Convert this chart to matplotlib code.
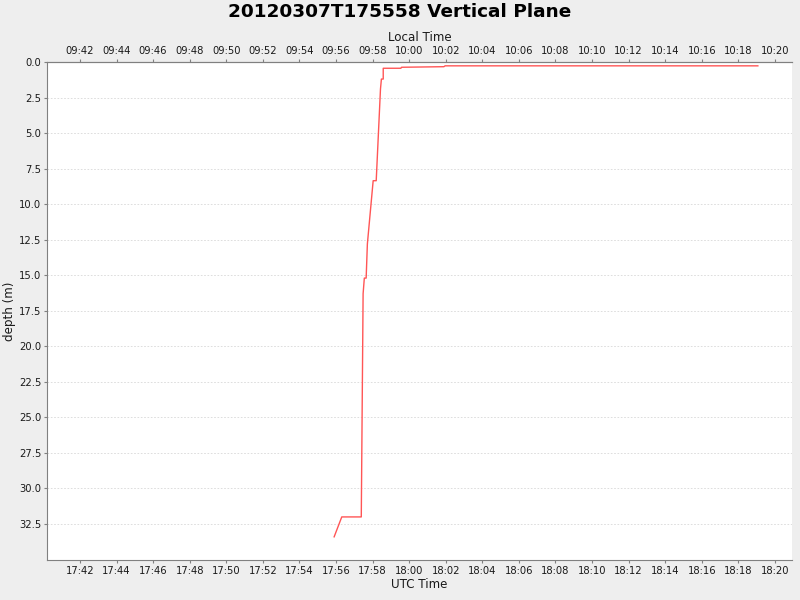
import matplotlib
matplotlib.use("Agg")
import matplotlib.pyplot as plt
import matplotlib.dates as mdates
import pandas as pd

# profile samples (UTC time, depth in metres)
utc_times = ["17:55:54", "17:56:19", "17:57:23", "17:57:29", "17:57:33", "17:57:39",
             "17:57:43", "17:58:02", "17:58:12", "17:58:26", "17:58:29", "17:58:35",
             "17:58:35", "17:59:33", "17:59:35", "18:01:54", "18:01:58", "18:19:04"]
depths = [33.4, 32.0, 32.0, 16.3, 15.2, 15.2,
          12.8, 8.35, 8.35, 1.9, 1.2, 1.2,
          0.44, 0.44, 0.37, 0.33, 0.27, 0.27]

day = "2012-03-07 "
t = pd.to_datetime([day + s for s in utc_times])
x_start = pd.Timestamp(day + "17:40:12")
x_end = pd.Timestamp(day + "18:20:56")
local_offset = pd.Timedelta(hours=8)

bg = "#EEEEEE"
txt = "#1A1A1A"
axis_c = "#808080"

fig = plt.figure(figsize=(8, 6), dpi=100, facecolor=bg)
ax = fig.add_axes([47/800, 1 - 560/600, (792 - 47)/800, (560 - 62)/600])
ax.set_facecolor("white")

ax.plot(t, depths, color="#FF5555", lw=1.0)

ax.set_xlim(x_start, x_end)
ax.set_ylim(35.03, 0)
ax.set_yticks([0, 2.5, 5, 7.5, 10, 12.5, 15, 17.5, 20, 22.5, 25, 27.5, 30, 32.5])
ax.yaxis.set_major_formatter(matplotlib.ticker.FormatStrFormatter("%.1f"))
ax.xaxis.set_major_locator(mdates.MinuteLocator(byminute=range(0, 60, 2)))
ax.xaxis.set_major_formatter(mdates.DateFormatter("%H:%M"))

ax.grid(axis="y", color="#D8D8D8", linestyle=(0, (2, 2)), lw=0.6)
ax.set_axisbelow(True)

for s in ["left", "bottom", "top"]:
    ax.spines[s].set_color(axis_c)
ax.spines["right"].set_visible(False)
ax.tick_params(colors=axis_c, labelcolor=txt, labelsize=7.2, length=2, pad=2)

ax.set_xlabel("UTC Time", fontsize=8.6, color=txt, labelpad=2)
ax.set_ylabel("depth (m)", fontsize=8.6, color=txt, labelpad=2)

# local time axis on top
ax2 = ax.twiny()
ax2.set_xlim(x_start - local_offset, x_end - local_offset)
ax2.xaxis.set_major_locator(mdates.MinuteLocator(byminute=range(0, 60, 2)))
ax2.xaxis.set_major_formatter(mdates.DateFormatter("%H:%M"))
for s in ["left", "bottom", "right"]:
    ax2.spines[s].set_visible(False)
ax2.spines["top"].set_color(axis_c)
ax2.tick_params(colors=axis_c, labelcolor=txt, labelsize=7.2, length=2, pad=2)
ax2.set_xlabel("Local Time", fontsize=8.6, color=txt, labelpad=4)

fig.suptitle("20120307T175558 Vertical Plane", fontsize=13.3, fontweight="bold",
             y=0.995, color="black")

fig.savefig("out.png", dpi=100, facecolor=bg)
